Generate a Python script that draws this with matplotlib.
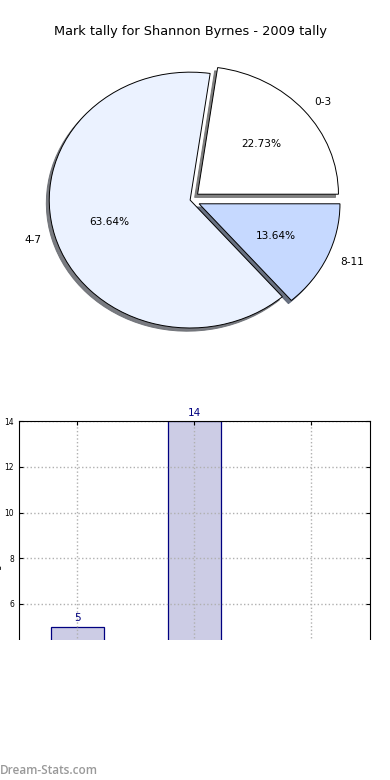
import matplotlib
matplotlib.use("Agg")
import matplotlib.pyplot as plt
from matplotlib.patches import Rectangle

# Datos del gráfico
categorias = ["0-3", "4-7", "8-11"]
partidos = [5, 14, 3]
colores_pie = ["#ffffff", "#ebf2ff", "#c6d9ff"]
separacion = [0.07, 0.0, 0.07]
titulo = "Mark tally for Shannon Byrnes - 2009 tally"
etiqueta_y = "Number of games"
yticks = [0, 2, 4, 6, 8, 10, 12, 14]

fig = plt.figure(figsize=(3.9, 7.8), dpi=100)

# Tarta (arriba)
ax1 = fig.add_axes([0.036, 0.5385, 0.903, 0.410])
ax1.pie(partidos, labels=categorias, colors=colores_pie, explode=separacion,
        autopct="%1.2f%%", startangle=0,
        shadow=dict(ox=-0.015, oy=-0.018, shade=0.55, alpha=0.9),
        wedgeprops=dict(edgecolor="black", linewidth=0.7),
        textprops=dict(fontsize=7.6))
ax1.set_aspect("auto")
ax1.set_xlim(-1.25, 1.25)
ax1.set_ylim(-1.25, 1.25)
ax1.set_title(titulo, fontsize=9.3, pad=4)

# Barras (abajo, recortadas)
ax2 = fig.add_axes([0.0487, 0.05, 0.9, 0.41])
x = range(len(categorias))
barras = ax2.bar(x, partidos, width=0.45, color="#cccce5", edgecolor="#000080", linewidth=0.9)
for b, v in zip(barras, partidos):
    ax2.text(b.get_x() + b.get_width() / 2, v + 0.15, str(v), ha="center", va="bottom",
             color="#000080", fontsize=7.5)
ax2.set_xlim(-0.5, 2.5)
ax2.set_ylim(0, 14)
ax2.set_xticks(list(x))
ax2.set_xticklabels(categorias)
ax2.set_yticks(yticks)
ax2.tick_params(axis="both", labelsize=5.5, direction="in", top=True, right=True, length=3)
ax2.grid(True, linestyle=":", color="#b0b0b0", linewidth=1)
ax2.set_ylabel(etiqueta_y, fontsize=7, labelpad=2)

# La parte de abajo queda tapada
fig.patches.append(Rectangle((0, 0), 1, (780 - 640) / 780, transform=fig.transFigure,
                             facecolor="white", edgecolor="none", zorder=10))
fig.text(0.0, 0.004, "Dream-Stats.com", fontsize=8.5, color="#999999", fontweight="semibold",
         family="Open Sans", ha="left", va="bottom", zorder=11)

plt.savefig("out.png", dpi=100)
